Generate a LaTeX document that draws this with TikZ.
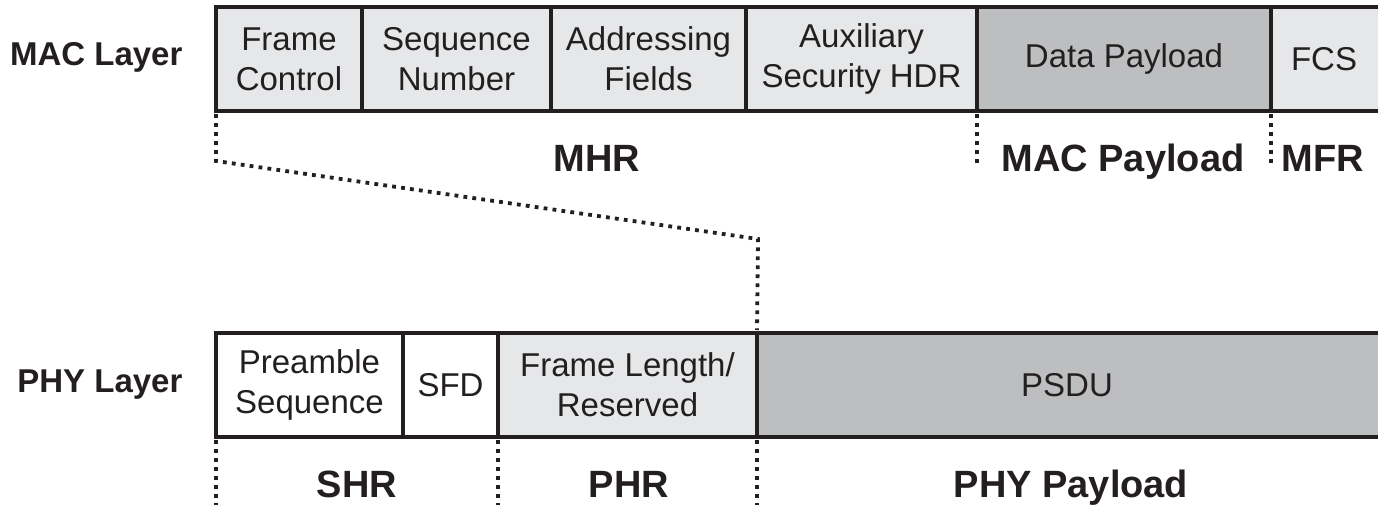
\documentclass[tikz,border=0pt]{standalone}
\usepackage{fontspec}
\setmainfont{Liberation Sans}
\definecolor{ink}{HTML}{231F20}
\definecolor{lightfield}{HTML}{E6E7E8}
\definecolor{darkfield}{HTML}{BCBEC0}
\begin{document}
\begin{tikzpicture}[x=1pt,y=-1pt,
  field/.style={draw=ink, line width=3.2pt, anchor=north west, minimum height=104pt,
    inner sep=0pt, outer sep=0pt, align=center, text=ink,
    font=\fontsize{33}{40}\selectfont},
  fieldtext/.style={text=ink, font=\fontsize{33}{40}\selectfont},
  light/.style={fill=lightfield},
  darkf/.style={fill=darkfield},
  plain/.style={fill=white},
  layerlabel/.style={anchor=base east, text=ink, font=\fontsize{33}{38}\selectfont\bfseries},
  seglabel/.style={anchor=base, text=ink, font=\fontsize{38}{44}\selectfont\bfseries},
  sep/.style={draw=ink, line width=3.8pt, dash pattern=on 3.8pt off 5.2pt}
]
\useasboundingbox (0,0) rectangle (1378,504);
\clip (0,0) rectangle (1378,504);

% MAC layer frame
\node[field, light, minimum width=146pt] (fc)  at (216,7) {Frame\\Control};
\node[field, light, minimum width=189pt] (sn)  at (362,7) {Sequence\\Number};
\node[field, light, minimum width=195pt] (af)  at (551,7) {Addressing\\Fields};
\node[field, light, minimum width=231pt] (ash) at (746,7) {Auxiliary\\Security HDR};
\node[field, darkf, minimum width=294pt] (dp)  at (977,7) {Data Payload};
\node[field, light, minimum width=130pt] (fcs) at (1271,7) {};
\node[fieldtext] (fcst) at (1324,59) {FCS};

% PHY layer frame
\node[field, plain, minimum width=187pt] (pre) at (216,333) {Preamble\\Sequence};
\node[field, plain, minimum width=95pt]  (sfd) at (403,333) {SFD};
\node[field, light, minimum width=259pt] (fl)  at (498,333) {Frame Length/\\Reserved};
\node[field, darkf, minimum width=640pt] (psdu) at (757,333) {};
\node[fieldtext] (psdut) at (1067,385) {PSDU};

% layer names
\node[layerlabel] (mac) at (186,65) {MAC Layer};
\node[layerlabel] (phy) at (186,392) {PHY Layer};

% segment names
\node[seglabel] (mhr) at (597,171) {MHR};
\node[seglabel] (macp) at (1123,171) {MAC Payload};
\node[seglabel] (mfr) at (1323,171) {MFR};
\node[seglabel] (shr) at (357,497) {SHR};
\node[seglabel] (phr) at (629,497) {PHR};
\node[seglabel] (phyp) at (1071,497) {PHY Payload};

% MHR mapped onto the PHY header
\coordinate (k1) at (216,161);
\coordinate (k2) at (758,239);
\draw[sep] ([yshift=-3pt]fc.south west) -- (k1) -- (k2) -- ([yshift=3pt]psdu.north west);

% segment separators
\coordinate (s1) at (977,166);
\coordinate (s2) at (1271,166);
\draw[sep] ([yshift=-3pt]dp.south west) -- (s1);
\draw[sep] ([yshift=-3pt]fcs.south west) -- (s2);
\coordinate (s3) at (216,506);
\coordinate (s4) at (498,506);
\coordinate (s5) at (757,506);
\draw[sep] ([yshift=-3pt]pre.south west) -- (s3);
\draw[sep] ([yshift=-3pt]fl.south west) -- (s4);
\draw[sep] ([yshift=-3pt]psdu.south west) -- (s5);
\end{tikzpicture}
\end{document}
